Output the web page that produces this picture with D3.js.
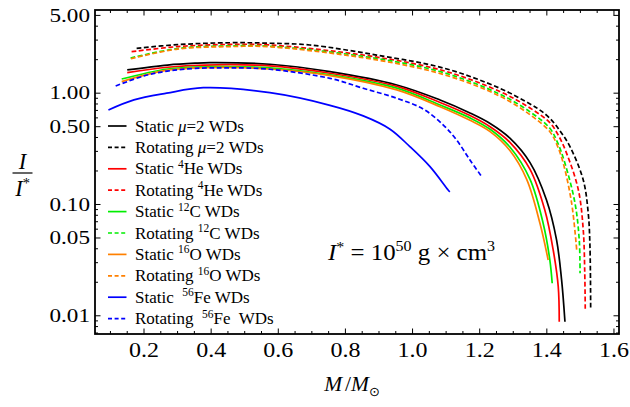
<!DOCTYPE html>
<html><head><meta charset="utf-8">
<script src="https://cdn.jsdelivr.net/npm/d3@7"></script>
<style>
body{margin:0;background:#fff;}
text{font-family:"Liberation Serif","Times New Roman",serif;fill:#000;}
</style></head><body>
<svg id="chart" width="630" height="407" xmlns="http://www.w3.org/2000/svg"></svg>
<script>
// ---------- data ----------
const xTicks = [0.2, 0.4, 0.6, 0.8, 1.0, 1.2, 1.4, 1.6];
const xTickLabels = ["0.2", "0.4", "0.6", "0.8", "1.0", "1.2", "1.4", "1.6"];
const yTicks = [0.01, 0.05, 0.1, 0.5, 1, 5];
const yTickLabels = ["0.01", "0.05", "0.10", "0.50", "1.00", "5.00"];

// [M/Msun, I/I*]
const staticMu2 = [[0.150,1.62],[0.27,1.79],[0.352,1.86],[0.397,1.88],[0.575,1.82],[0.754,1.56],[0.953,1.185],[1.082,0.869],[1.171,0.665],[1.231,0.535],[1.290,0.395],[1.350,0.238],[1.399,0.1097],[1.429,0.048],[1.444,0.021],[1.454,0.00885]];
const rotatingMu2 = [[0.178,2.53],[0.30,2.73],[0.456,2.84],[0.575,2.81],[0.694,2.71],[0.893,2.20],[1.096,1.67],[1.260,1.107],[1.350,0.80],[1.3795,0.705],[1.409,0.595],[1.440,0.455],[1.469,0.331],[1.5085,0.166],[1.5234,0.0834],[1.5285,0.0418],[1.5306,0.01127]];
const staticHe = [[0.150,1.53],[0.27,1.71],[0.38,1.79],[0.575,1.76],[0.754,1.51],[0.953,1.15],[1.082,0.825],[1.171,0.630],[1.231,0.500],[1.290,0.362],[1.350,0.207],[1.394,0.0892],[1.419,0.039],[1.434,0.01826],[1.437,0.00885]];
const rotatingHe = [[0.163,2.36],[0.30,2.62],[0.45,2.74],[0.575,2.71],[0.893,2.11],[1.096,1.58],[1.260,1.035],[1.350,0.736],[1.409,0.543],[1.435,0.415],[1.459,0.288],[1.494,0.135],[1.5085,0.059],[1.5130,0.0241],[1.5145,0.01127]];
const staticC = [[0.1335,1.34],[0.27,1.65],[0.40,1.73],[0.575,1.69],[0.754,1.46],[0.953,1.11],[1.082,0.783],[1.171,0.600],[1.231,0.474],[1.290,0.328],[1.350,0.168],[1.389,0.0678],[1.409,0.0317],[1.416,0.0196]];
const rotatingC = [[0.160,2.07],[0.30,2.52],[0.45,2.66],[0.575,2.64],[0.893,2.05],[1.096,1.52],[1.260,0.98],[1.350,0.68],[1.409,0.484],[1.432,0.360],[1.454,0.2345],[1.484,0.1025],[1.4966,0.048],[1.4990,0.0241]];
const staticO = [[0.1335,1.27],[0.27,1.61],[0.40,1.70],[0.575,1.65],[0.754,1.44],[0.953,1.07],[1.082,0.756],[1.171,0.570],[1.231,0.451],[1.290,0.305],[1.340,0.168],[1.3795,0.0678],[1.404,0.0317]];
const rotatingO = [[0.161,2.04],[0.30,2.49],[0.45,2.62],[0.575,2.61],[0.893,1.99],[1.096,1.46],[1.260,0.94],[1.350,0.64],[1.409,0.451],[1.430,0.345],[1.449,0.2345],[1.474,0.1025],[1.489,0.039]];
const staticFe = [[0.094,0.706],[0.17,0.87],[0.2675,1.00],[0.3765,1.12],[0.575,1.01],[0.754,0.778],[0.853,0.625],[0.933,0.475],[0.992,0.331],[1.052,0.2186],[1.106,0.135],[1.111,0.130]];
const rotatingFe = [[0.1156,1.16],[0.20,1.43],[0.27,1.58],[0.352,1.67],[0.45,1.69],[0.575,1.64],[0.754,1.36],[0.853,1.107],[0.953,0.900],[1.032,0.720],[1.091,0.520],[1.131,0.380],[1.171,0.251],[1.206,0.178]];

const seriesData = [staticMu2, rotatingMu2, staticHe, rotatingHe, staticC, rotatingC, staticO, rotatingO, staticFe, rotatingFe];
const legendLabels = [
  [["Static "],["μ","i"],["=2 WDs"]],
  [["Rotating "],["μ","i"],["=2 WDs"]],
  [["Static "],["4","s"],["He WDs"]],
  [["Rotating "],["4","s"],["He WDs"]],
  [["Static "],["12","s"],["C WDs"]],
  [["Rotating "],["12","s"],["C WDs"]],
  [["Static "],["16","s"],["O WDs"]],
  [["Rotating "],["16","s"],["O WDs"]],
  [["Static  "],["56","s"],["Fe WDs"]],
  [["Rotating  "],["56","s"],["Fe  WDs"]]
];

// ---------- styles ----------
const colors = ["#000000","#000000","#ff0000","#ff0000","#00ee00","#00ee00","#ff8000","#ff8000","#0000ff","#0000ff"];
const dashed = [false,true,false,true,false,true,false,true,false,true];

// ---------- chart ----------
const svg = d3.select("#chart");
const L = 95, R = 619, T = 10, B = 334;
const x = d3.scaleLinear().domain([0.054, 1.615]).range([L, R]);
const y = d3.scaleLog().domain([0.00686, 5.59]).range([B, T]);

svg.append("clipPath").attr("id","clip").append("rect")
  .attr("x", L).attr("y", T).attr("width", R-L).attr("height", B-T);

const line = d3.line().x(d => x(d[0])).y(d => y(d[1])).curve(d3.curveCatmullRom.alpha(0.5));

const gLines = svg.append("g").attr("clip-path","url(#clip)");
const order = [0,2,4,6,8,1,3,5,7,9];
order.forEach(i => {
  gLines.append("path").datum(seriesData[i])
    .attr("d", line).attr("fill","none")
    .attr("stroke", colors[i]).attr("stroke-width", 1.7)
    .attr("stroke-dasharray", dashed[i] ? "4.8,2.6" : null);
});

// frame
svg.append("rect").attr("x",L).attr("y",T).attr("width",R-L).attr("height",B-T)
  .attr("fill","none").attr("stroke","#000").attr("stroke-width",1.8);

// ticks
const gT = svg.append("g").attr("stroke","#000").attr("stroke-width",1);
const xMinor = d3.range(0.1, 1.6001, 0.05).filter(v => !xTicks.some(t => Math.abs(t-v) < 1e-6));
xTicks.forEach(v => {
  gT.append("line").attr("x1",x(v)).attr("x2",x(v)).attr("y1",B).attr("y2",B-5.5);
  gT.append("line").attr("x1",x(v)).attr("x2",x(v)).attr("y1",T).attr("y2",T+5.5);
});
xMinor.forEach(v => {
  gT.append("line").attr("x1",x(v)).attr("x2",x(v)).attr("y1",B).attr("y2",B-3);
  gT.append("line").attr("x1",x(v)).attr("x2",x(v)).attr("y1",T).attr("y2",T+3);
});
const yMinor = [];
[-3,-2,-1,0].forEach(e => { for (let k=1;k<=9;k++){ const v=k*Math.pow(10,e); if (v>0.00686 && v<5.59 && !yTicks.some(t=>Math.abs(t-v)/t<1e-6)) yMinor.push(v);} });
yTicks.forEach(v => {
  gT.append("line").attr("x1",L).attr("x2",L+5.5).attr("y1",y(v)).attr("y2",y(v));
  gT.append("line").attr("x1",R).attr("x2",R-5.5).attr("y1",y(v)).attr("y2",y(v));
});
yMinor.forEach(v => {
  gT.append("line").attr("x1",L).attr("x2",L+3).attr("y1",y(v)).attr("y2",y(v));
  gT.append("line").attr("x1",R).attr("x2",R-3).attr("y1",y(v)).attr("y2",y(v));
});

// tick labels
xTicks.forEach((v,i) => {
  svg.append("text").attr("x",x(v)).attr("y",356.5).attr("text-anchor","middle")
    .attr("font-size",20).attr("textLength",30).attr("lengthAdjust","spacingAndGlyphs")
    .text(xTickLabels[i]);
});
yTicks.forEach((v,i) => {
  svg.append("text").attr("x",90).attr("y",y(v)+6.3).attr("text-anchor","end")
    .attr("font-size",19).attr("textLength",40.5).attr("lengthAdjust","spacingAndGlyphs")
    .text(yTickLabels[i]);
});

// legend
const gLeg = svg.append("g");
legendLabels.forEach((parts,i) => {
  const cy = 126 + i*21.4;
  gLeg.append("line").attr("x1",108).attr("x2",126.5).attr("y1",cy).attr("y2",cy)
    .attr("stroke",colors[i]).attr("stroke-width",1.7)
    .attr("stroke-dasharray", dashed[i] ? "4,2.6" : null);
  const t = gLeg.append("text").attr("x",135).attr("y",cy+5.5).attr("font-size",17)
    .style("white-space","pre");
  let up = false;
  parts.forEach(p => {
    const ts = t.append("tspan").text(p[0]);
    if (p[1] === "i") ts.attr("font-style","italic");
    if (p[1] === "s") { ts.attr("font-size",11.5).attr("dy",-6.5); up = true; }
    else if (up) { ts.attr("dy",6.5); up = false; }
  });
});

// annotation I* = 10^50 g x cm^3
const ann = svg.append("text").attr("x",328).attr("y",260).attr("font-size",22.5)
  .attr("textLength",167).attr("lengthAdjust","spacingAndGlyphs").style("white-space","pre");
ann.append("tspan").attr("font-style","italic").text("I");
ann.append("tspan").attr("font-size",14.5).attr("dy",-8).text("*");
ann.append("tspan").attr("dy",8).text(" = 10");
ann.append("tspan").attr("font-size",14.5).attr("dy",-9).text("50");
ann.append("tspan").attr("dy",9).text(" g × cm");
ann.append("tspan").attr("font-size",14.5).attr("dy",-9).text("3");

// axis labels
const xl = svg.append("text").attr("x",352).attr("y",391).attr("text-anchor","middle").attr("font-size",21.5).style("white-space","pre");
xl.append("tspan").attr("font-style","italic").text("M");
xl.append("tspan").attr("dx",3).text("/");
xl.append("tspan").attr("font-style","italic").text("M");
xl.append("tspan").attr("font-size",13).attr("dy",5).attr("font-family","DejaVu Sans").text("⊙");

svg.append("text").attr("x",22.5).attr("y",169).attr("text-anchor","middle").attr("font-size",22.5).attr("font-style","italic").text("I");
svg.append("line").attr("x1",12.5).attr("x2",32.5).attr("y1",173).attr("y2",173).attr("stroke","#000").attr("stroke-width",1.2);
const yl = svg.append("text").attr("x",22.5).attr("y",196).attr("text-anchor","middle").attr("font-size",22.5);
yl.append("tspan").attr("font-style","italic").text("I");
yl.append("tspan").attr("font-size",14.5).attr("dy",-8).text("*");
</script>
</body></html>
